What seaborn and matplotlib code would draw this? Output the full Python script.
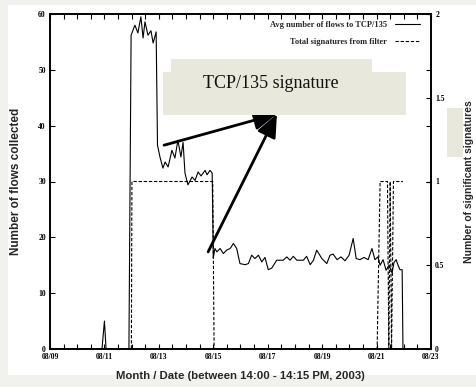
import matplotlib
matplotlib.use("Agg")
import matplotlib.pyplot as plt
import seaborn as sns
import pandas as pd
from matplotlib import font_manager
from matplotlib.patches import Rectangle
from matplotlib.lines import Line2D

# ---- data (day of August 2003, values) ----
flow_day = [9.00, 10.91, 11.00, 11.06, 11.90, 11.98, 12.12, 12.23, 12.34, 12.42,
            12.49, 12.60, 12.71, 12.79, 12.90, 12.95, 13.04, 13.15, 13.23, 13.34,
            13.48, 13.59, 13.70, 13.81, 13.89, 13.96, 14.07, 14.22, 14.33, 14.44,
            14.55, 14.70, 14.77, 14.88, 14.96, 15.00, 15.06, 15.13, 15.25, 15.37,
            15.49, 15.62, 15.74, 15.86, 15.98, 16.17, 16.29, 16.41, 16.53, 16.66,
            16.78, 16.90, 17.02, 17.15, 17.33, 17.57, 17.70, 17.82, 17.94, 18.07,
            18.31, 18.43, 18.56, 18.68, 18.80, 18.99, 19.17, 19.29, 19.40, 19.55,
            19.69, 19.84, 19.99, 20.14, 20.25, 20.39, 20.54, 20.69, 20.83, 20.94,
            21.05, 21.13, 21.24, 21.35, 21.46, 21.57, 21.64, 21.72, 21.79, 21.86,
            21.94, 21.97]
flow_val = [0, 0, 5, 0, 0, 56.2, 58.0, 56.6, 59.5, 55.7,
            58.6, 56.2, 57.0, 54.8, 56.8, 36.5, 34.4, 32.4, 33.5, 32.6,
            35.6, 34.2, 37.4, 34.4, 37.0, 31.5, 29.4, 30.8, 30.2, 31.7,
            31.0, 32.0, 31.2, 32.0, 31.5, 16.3, 18.0, 17.4, 18.0, 17.1,
            17.7, 18.0, 18.9, 18.0, 15.3, 15.1, 15.3, 16.8, 16.2, 16.8,
            15.6, 16.4, 14.2, 14.5, 15.9, 15.9, 16.5, 15.9, 16.6, 15.9,
            15.9, 16.6, 15.1, 15.9, 17.7, 16.2, 15.3, 16.8, 17.0, 16.0,
            16.5, 15.8, 16.8, 19.8, 16.2, 16.0, 16.4, 16.0, 18.0, 16.0,
            16.5, 15.0, 16.0, 14.1, 15.0, 13.6, 15.5, 16.0, 15.0, 14.2,
            14.2, 0]

sig_day = [9.00, 11.99, 12.01, 14.98, 15.03, 21.02, 21.13, 21.40, 21.45, 21.50,
           21.55, 21.62, 21.97]
sig_val = [0, 0, 1, 1, 0, 0, 1, 1, 0, 1, 0, 1, 1]

xtick_days = [9, 11, 13, 15, 17, 19, 21, 23]
xtick_labels = ["08/09", "08/11", "08/13", "08/15", "08/17", "08/19", "08/21", "08/23"]
left_ticks = [0, 10, 20, 30, 40, 50, 60]
right_ticks = [0, 0.5, 1, 1.5, 2]
right_labels = ["0", "0.5", "1", "1.5", "2"]
legend_labels = ["Avg number of flows to TCP/135", "Total signatures from filter"]

flows = pd.DataFrame({"day": flow_day, "flows": flow_val})
sigs = pd.DataFrame({"day": sig_day, "sigs": sig_val})

sns.set_theme(style="ticks")
names = {f.name for f in font_manager.fontManager.ttflist}
SANS = "Liberation Sans Narrow" if "Liberation Sans Narrow" in names else "Liberation Sans"
SERIF = "Liberation Serif"
plt.rcParams["font.family"] = ["DejaVu Sans"]

W, H = 476, 387
fig = plt.figure(figsize=(W / 100, H / 100), dpi=100)
fig.patch.set_facecolor("#f1f1ed")
fig.add_artist(Rectangle((8 / W, 1 - 375 / H), (W - 8) / W, 370 / H,
                         transform=fig.transFigure, facecolor="white",
                         edgecolor="none", zorder=-1))

ax = fig.add_axes([50 / W, 1 - 349 / H, 381 / W, 335 / H])
ax2 = ax.twinx()

sns.lineplot(data=flows, x="day", y="flows", ax=ax, estimator=None, sort=False,
             color="black", lw=0.8)
sns.lineplot(data=sigs, x="day", y="sigs", ax=ax2, estimator=None, sort=False,
             color="black", lw=0.8, linestyle=(0, (3, 1.6)))

ax.set_xlim(9, 23)
ax.set_ylim(0, 60)
ax2.set_ylim(0, 2)

tick_font = dict(fontfamily=SERIF, fontweight="bold", fontsize=5.5)
ax.set_xticks(xtick_days, labels=xtick_labels, **tick_font)
ax.set_xticks([d / 2 for d in range(18, 47)], minor=True)
ax.set_yticks(left_ticks, labels=[str(t) for t in left_ticks], **tick_font)
ax2.set_yticks(right_ticks, labels=right_labels, **tick_font)

ax.tick_params(axis="both", which="both", direction="in", top=True, right=True,
               length=3.5, width=0.8, pad=3, colors="black")
ax.tick_params(axis="y", right=True, labelright=False)
ax2.tick_params(axis="y", direction="in", length=3.5, width=0.8, pad=3, colors="black")

for a in (ax, ax2):
    for s in a.spines.values():
        s.set_linewidth(1.2)
        s.set_color("black")
        s.set_visible(True)

ax.set_xlabel("Month / Date (between 14:00 - 14:15 PM, 2003)", fontfamily=SANS,
              fontweight="bold", fontsize=8.2, labelpad=7)
ax.set_ylabel("Number of flows collected", fontfamily=SANS, fontweight="bold",
              fontsize=8.5, labelpad=12)
ax2.set_ylabel("Number of significant signatures", fontfamily=SANS,
               fontweight="bold", fontsize=7.5, labelpad=14)

handles = [Line2D([], [], color="black", lw=0.8),
           Line2D([], [], color="black", lw=0.8, linestyle=(0, (3, 1.6)))]
leg = ax.legend(handles, legend_labels, loc="upper right", bbox_to_anchor=(0.971, 0.979),
                frameon=False, markerfirst=False, handlelength=3.0, handletextpad=1.0,
                labelspacing=1.05, borderpad=0, borderaxespad=0,
                prop=dict(family=SERIF, weight="bold", size=6))

# annotation box and arrows
beige = "#e8e8dc"
fig.add_artist(Rectangle((171 / W, 1 - 72 / H), 201 / W, 13 / H, transform=fig.transFigure,
                         facecolor=beige, edgecolor="none", zorder=3))
fig.add_artist(Rectangle((163 / W, 1 - 115 / H), 243 / W, 43 / H, transform=fig.transFigure,
                         facecolor=beige, edgecolor="none", zorder=3))
fig.add_artist(Rectangle((447 / W, 1 - 157 / H), 16 / W, 49 / H, transform=fig.transFigure,
                         facecolor=beige, edgecolor="none", zorder=3))
fig.text(271 / W, 1 - 84 / H, "TCP/135 signature", ha="center", va="center",
         fontfamily=SERIF, fontsize=13, color="#111111", zorder=4)

arrow_props = dict(arrowstyle="-|>,head_length=0.7,head_width=0.3", mutation_scale=20,
                   lw=2, color="black", shrinkA=0, shrinkB=0)
ax.annotate("", xy=(17.34, 42.1), xytext=(13.19, 36.5), arrowprops=arrow_props, zorder=5)
ax.annotate("", xy=(17.34, 42.1), xytext=(14.81, 17.4), arrowprops=arrow_props, zorder=5)

fig.savefig("out.png", dpi=100, facecolor=fig.get_facecolor())
